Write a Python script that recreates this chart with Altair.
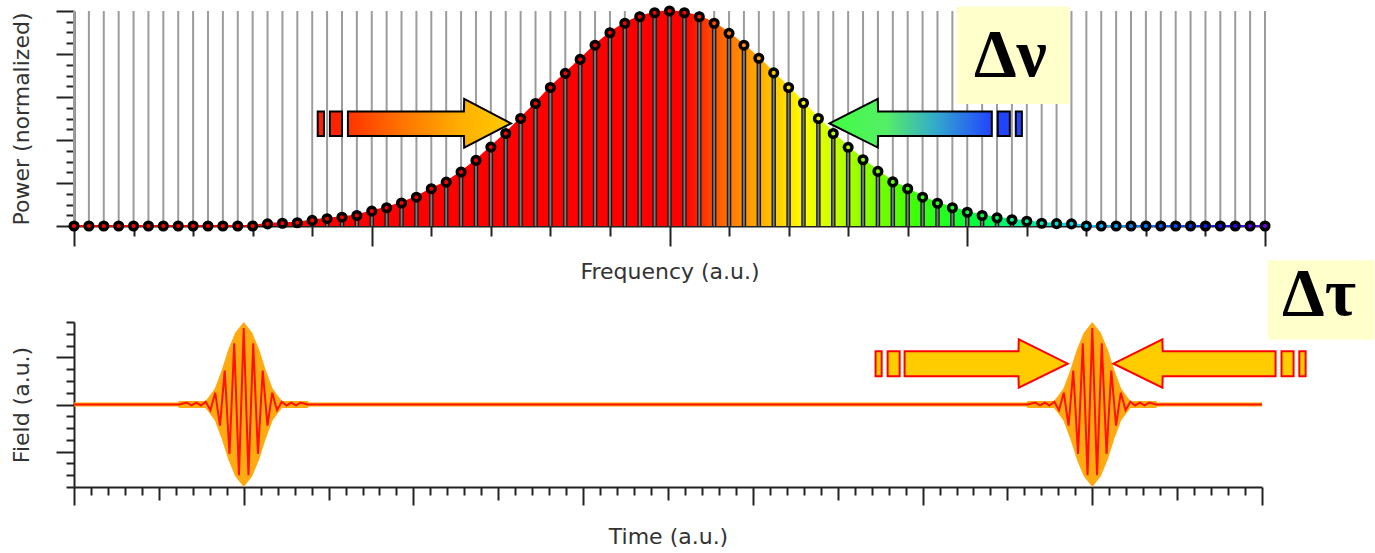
import altair as alt
import pandas as pd

# ---------------- top panel: spectrum ----------------
freq_index = list(range(81))
power = [0, 0, 0, 0, 0, 0, 0, 0, 0, 0, 0, 0, 0,
         0.010, 0.013, 0.015, 0.026, 0.034, 0.041, 0.049, 0.069, 0.085, 0.107,
         0.134, 0.173, 0.204, 0.251, 0.305, 0.367, 0.430, 0.500, 0.570, 0.644,
         0.710, 0.775, 0.841, 0.899, 0.943, 0.973, 0.992, 1.000,
         0.992, 0.973, 0.943, 0.896, 0.841, 0.780, 0.712, 0.644, 0.572, 0.500,
         0.430, 0.366, 0.308, 0.254, 0.205, 0.173, 0.134, 0.106, 0.085, 0.064,
         0.049, 0.038, 0.029, 0.022, 0.013, 0.011, 0.010,
         0, 0, 0, 0, 0, 0, 0, 0, 0, 0, 0, 0, 0]

color_stop_index = [0, 41, 44, 46, 49, 52, 56, 61, 64, 68, 72, 76, 78, 80]
color_stop_colors = ["#ff0000", "#ff0000", "#ff7700", "#ffaa00", "#ffff00", "#aaff00",
                     "#44ff00", "#00ff44", "#00ee99", "#00ccff", "#0077ff", "#0022ff",
                     "#3300ff", "#7700ee"]

freq_ticks = list(range(0, 81, 4))
power_ticks = [round(0.05 * k, 2) for k in range(21)]

# arrows (frequency index / power units)
arrowL_i = [18.4, 26.19, 26.21, 29.35]
arrowL_top = [0.533, 0.533, 0.591, 0.477]
arrowL_bot = [0.419, 0.419, 0.365, 0.477]
arrowR_i = [50.75, 53.99, 54.01, 61.65]
arrowR_top = [0.477, 0.591, 0.533, 0.533]
arrowR_bot = [0.477, 0.365, 0.419, 0.419]
rectsL_i0 = [16.37, 17.19]
rectsL_i1 = [16.79, 18.0]
rectsR_i0 = [62.05, 63.26]
rectsR_i1 = [62.86, 63.67]
arrow_top_hi, arrow_top_lo = 0.533, 0.419
dnu_box = {"i0": 59.28, "i1": 66.87, "p0": 0.568, "p1": 1.021}
dnu_label = {"i": 62.9, "p": 0.70, "label": "\u0394\u03bd"}

# ---------------- bottom panel: field ----------------
time_ticks = list(range(0, 71))
field_ticks = [round(-1.75 + 0.25 * k, 2) for k in range(15)]
time_start, time_end = 0, 70
pulse_centers = [10, 60]
env_offsets = [-3.8, -3.75, -2.2, -2.0, -1.6, -1.2, -0.8, -0.4, 0.0,
               0.4, 0.8, 1.2, 1.6, 2.0, 2.2, 3.7, 3.75]
env_values = [0, 0.03, 0.03, 0.12, 0.32, 0.70, 1.15, 1.50, 1.68,
              1.50, 1.15, 0.70, 0.32, 0.12, 0.03, 0.03, 0]
carrier_offsets = [-3.8, -3.36, -3.08, -2.8, -2.52, -2.24, -1.96, -1.68, -1.4, -1.12, -0.84,
                   -0.56, -0.28, 0.0, 0.28, 0.56, 0.84, 1.12, 1.4, 1.68, 1.96,
                   2.24, 2.52, 2.8, 3.08, 3.36, 3.75]
carrier_values = [0, 0.04, -0.02, 0.04, -0.02, 0.06, -0.12, 0.25, -0.45, 0.72, -1.05,
                  1.30, -1.50, 1.62, -1.50, 1.30, -1.05, 0.72, -0.45, 0.25, -0.12,
                  0.06, -0.02, 0.04, -0.02, 0.04, 0]

bl_t = [47.23, 47.94]
bl_t1 = [47.59, 48.65]
br_t = [71.15, 72.2]
br_t1 = [71.86, 72.57]
barrowL_t = [48.94, 55.65, 55.67, 58.55]
barrowL_top = [1.13, 1.13, 1.38, 0.865]
barrowL_bot = [0.60, 0.60, 0.355, 0.865]
barrowR_t = [61.25, 64.13, 64.15, 70.80]
barrowR_top = [0.865, 1.38, 1.13, 1.13]
barrowR_bot = [0.865, 0.355, 0.60, 0.60]
barrow_hi, barrow_lo = 1.13, 0.60
dtau_box = {"t0": 70.33, "t1": 76.63, "f0": 1.38, "f1": 3.06}
dtau_label = {"t": 73.36, "f": 1.89, "label": "\u0394\u03c4"}

# ---------------- styling ----------------
FONT = "DejaVu Sans"
AX = "#222222"
TITLE_SIZE = 22

spec_df = pd.DataFrame({"i": freq_index, "p": power})
grad_spec = {"gradient": "linear", "x1": 0, "x2": 1, "y1": 0, "y2": 0,
             "stops": [{"offset": s / 80, "color": c} for s, c in zip(color_stop_index, color_stop_colors)]}
grad_arrowL = {"gradient": "linear", "x1": 0, "x2": 1, "y1": 0, "y2": 0,
               "stops": [{"offset": 0, "color": "#ff3300"}, {"offset": 0.35, "color": "#ff7700"},
                         {"offset": 0.7, "color": "#ffb000"}, {"offset": 1, "color": "#ffcc00"}]}
grad_arrowR = {"gradient": "linear", "x1": 0, "x2": 1, "y1": 0, "y2": 0,
               "stops": [{"offset": 0, "color": "#40ff40"}, {"offset": 0.35, "color": "#55ee66"},
                         {"offset": 0.65, "color": "#33aacc"}, {"offset": 1, "color": "#2244ff"}]}

xs_top = alt.Scale(domain=[0, 80], nice=False, zero=False)
ys_top = alt.Scale(domain=[0, 1], nice=False, zero=False)
ax_top_x = alt.Axis(values=freq_ticks, labels=False, grid=False, title="Frequency (a.u.)",
                    tickSize={"expr": "datum.value % 20 === 0 ? 20 : 10"}, titlePadding=14)
ax_top_y = alt.Axis(values=power_ticks, labels=False, grid=False, title="Power (normalized)",
                    tickSize={"expr": "abs(datum.value*5 - round(datum.value*5)) < 0.001 ? 18 : 8"},
                    titlePadding=21.5)


def TX(f):
    return alt.X(f, type="quantitative", scale=xs_top, axis=ax_top_x)


def TY(f):
    return alt.Y(f, type="quantitative", scale=ys_top, axis=ax_top_y)


base_spec = alt.Chart(spec_df).transform_calculate(zero="0", one="1")
grid = base_spec.mark_rule(color="#9c9c9c", strokeWidth=2).encode(x=TX("i"), y=TY("zero"), y2=alt.Y2("one"))
area = base_spec.mark_area(color=grad_spec, interpolate="linear").encode(x=TX("i"), y=TY("p"), y2=alt.Y2("zero"))
edge = base_spec.mark_line(stroke=grad_spec, strokeWidth=2).encode(x=TX("i"), y=TY("p"))
stem_o = base_spec.mark_rule(color="#1a1a1a", strokeWidth=4.5).encode(x=TX("i"), y=TY("p"), y2=alt.Y2("zero"))
stem_i = base_spec.mark_rule(color="#7a7a7a", strokeWidth=1.8).encode(x=TX("i"), y=TY("p"), y2=alt.Y2("zero"))
pts = base_spec.mark_point(filled=True, size=58, stroke="black", strokeWidth=3.5, opacity=1).encode(
    x=TX("i"), y=TY("p"),
    color=alt.Color("i:Q", scale=alt.Scale(domain=color_stop_index, range=color_stop_colors, interpolate="rgb"),
                    legend=None))

aL = alt.Chart(pd.DataFrame({"i": arrowL_i, "top": arrowL_top, "bot": arrowL_bot})).mark_area(
    color=grad_arrowL, stroke="black", strokeWidth=2, interpolate="linear").encode(
    x=TX("i"), y=TY("top"), y2=alt.Y2("bot"))
aR = alt.Chart(pd.DataFrame({"i": arrowR_i, "top": arrowR_top, "bot": arrowR_bot})).mark_area(
    color=grad_arrowR, stroke="black", strokeWidth=2, interpolate="linear").encode(
    x=TX("i"), y=TY("top"), y2=alt.Y2("bot"))
rL = alt.Chart(pd.DataFrame({"i0": rectsL_i0, "i1": rectsL_i1, "hi": arrow_top_hi, "lo": arrow_top_lo})).mark_rect(
    color="#ff2200", stroke="black", strokeWidth=2).encode(x=TX("i0"), x2=alt.X2("i1"), y=TY("hi"), y2=alt.Y2("lo"))
rR = alt.Chart(pd.DataFrame({"i0": rectsR_i0, "i1": rectsR_i1, "hi": arrow_top_hi, "lo": arrow_top_lo})).mark_rect(
    color="#2244ff", stroke="black", strokeWidth=2).encode(x=TX("i0"), x2=alt.X2("i1"), y=TY("hi"), y2=alt.Y2("lo"))
box_top = alt.Chart(pd.DataFrame([dnu_box])).mark_rect(color="#ffffcc").encode(
    x=TX("i0"), x2=alt.X2("i1"), y=TY("p0"), y2=alt.Y2("p1"))
txt_top = alt.Chart(pd.DataFrame([dnu_label])).mark_text(
    font="Liberation Serif", fontWeight="bold", fontSize=68, baseline="alphabetic", align="center",
    color="black").encode(x=TX("i"), y=TY("p"), text="label:N")

top = alt.layer(grid, area, edge, stem_o, stem_i, pts, aL, aR, rL, rR, box_top, txt_top).properties(
    width=1191, height=215)

# ---------------- bottom chart ----------------
env_rows = [{"t": time_start, "env": 0.0}]
car_rows = [{"t": time_start, "f": 0.0}]
for c in pulse_centers:
    env_rows += [{"t": c + o, "env": v} for o, v in zip(env_offsets, env_values)]
    car_rows += [{"t": c + o, "f": v} for o, v in zip(carrier_offsets, carrier_values)]
env_rows.append({"t": time_end, "env": 0.0})
car_rows.append({"t": time_end, "f": 0.0})

xs_bot = alt.Scale(domain=[0, 70], nice=False, zero=False)
ys_bot = alt.Scale(domain=[-1.75, 1.75], nice=False, zero=False)
ax_bot_x = alt.Axis(values=time_ticks, labels=False, grid=False, title="Time (a.u.)",
                    tickSize={"expr": "datum.value % 10 === 0 ? 18 : (datum.value % 5 === 0 ? 13 : 8)"},
                    titlePadding=20)
ax_bot_y = alt.Axis(values=field_ticks, labels=False, grid=False, title="Field (a.u.)",
                    tickSize={"expr": "abs(datum.value - round(datum.value)) < 0.001 ? 18 : 8"},
                    titlePadding=21.5)


def BX(f):
    return alt.X(f, type="quantitative", scale=xs_bot, axis=ax_bot_x)


def BY(f):
    return alt.Y(f, type="quantitative", scale=ys_bot, axis=ax_bot_y)


env_area = alt.Chart(pd.DataFrame(env_rows)).transform_calculate(neg="-datum.env").mark_area(
    color="#ffaa11", stroke="#ffaa11", strokeWidth=4, interpolate="linear").encode(
    x=BX("t"), y=BY("env"), y2=alt.Y2("neg"))
carrier = alt.Chart(pd.DataFrame(car_rows)).mark_line(color="#ff1100", strokeWidth=2, interpolate="linear").encode(
    x=BX("t"), y=BY("f"))
baL = alt.Chart(pd.DataFrame({"t": barrowL_t, "top": barrowL_top, "bot": barrowL_bot})).mark_area(
    color="#ffcc00", stroke="#ff0000", strokeWidth=2, interpolate="linear").encode(
    x=BX("t"), y=BY("top"), y2=alt.Y2("bot"))
baR = alt.Chart(pd.DataFrame({"t": barrowR_t, "top": barrowR_top, "bot": barrowR_bot})).mark_area(
    color="#ffcc00", stroke="#ff0000", strokeWidth=2, interpolate="linear").encode(
    x=BX("t"), y=BY("top"), y2=alt.Y2("bot"))
brL = alt.Chart(pd.DataFrame({"t0": bl_t, "t1": bl_t1, "hi": barrow_hi, "lo": barrow_lo})).mark_rect(
    color="#ffcc00", stroke="#ff0000", strokeWidth=2).encode(x=BX("t0"), x2=alt.X2("t1"), y=BY("hi"), y2=alt.Y2("lo"))
brR = alt.Chart(pd.DataFrame({"t0": br_t, "t1": br_t1, "hi": barrow_hi, "lo": barrow_lo})).mark_rect(
    color="#ffcc00", stroke="#ff0000", strokeWidth=2).encode(x=BX("t0"), x2=alt.X2("t1"), y=BY("hi"), y2=alt.Y2("lo"))
box_bot = alt.Chart(pd.DataFrame([dtau_box])).mark_rect(color="#ffffcc").encode(
    x=BX("t0"), x2=alt.X2("t1"), y=BY("f0"), y2=alt.Y2("f1"))
txt_bot = alt.Chart(pd.DataFrame([dtau_label])).mark_text(
    font="Liberation Serif", fontWeight="bold", fontSize=68, baseline="alphabetic", align="center",
    color="black").encode(x=BX("t"), y=BY("f"), text="label:N")

bottom = alt.layer(env_area, carrier, baL, baR, brL, brR, box_bot, txt_bot).properties(width=1188, height=165)

chart = alt.vconcat(top, bottom, spacing=96, bounds="flush").properties(
    padding={"left": 10, "top": 0, "right": 0, "bottom": 0}
).configure_view(strokeWidth=0).configure_axis(
    domainColor=AX, domainWidth=2, tickColor=AX, tickWidth=2,
    titleFont=FONT, titleFontSize=TITLE_SIZE, titleColor="#333333", titleFontWeight="normal"
)

chart.save("out.html", embed_options={"renderer": "svg", "actions": False})
